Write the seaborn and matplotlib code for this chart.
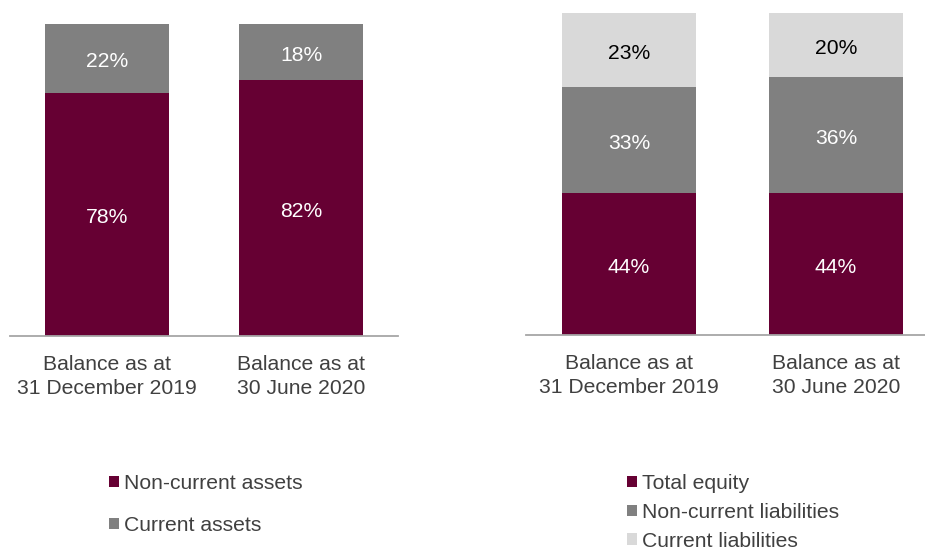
import matplotlib
matplotlib.use("Agg")
import matplotlib.pyplot as plt
from matplotlib.patches import Patch
import numpy as np
import seaborn as sns

# Balance-sheet structure, in percent of the total
periods = ["Balance as at\n31 December 2019", "Balance as at\n30 June 2020"]

asset_labels = ["Non-current assets", "Current assets"]
non_current_assets = [78, 82]
current_assets = [22, 18]

liability_labels = ["Total equity", "Non-current liabilities", "Current liabilities"]
total_equity = [44, 44]
non_current_liabilities = [33, 36]
current_liabilities = [23, 20]

MAROON = "#660033"
GREY = "#808080"
LIGHT = "#D9D9D9"
TEXT = "#404040"
AXIS = "#A6A6A6"
FS = 15.2

sns.set_theme(style="white")
plt.rcParams["font.family"] = ["Liberation Sans", "DejaVu Sans"]

W, H = 925, 549
fig = plt.figure(figsize=(W / 100, H / 100), dpi=100)


def px_axes(left, top, right, bottom):
    return fig.add_axes([left / W, 1 - bottom / H, (right - left) / W, (bottom - top) / H])


def stacked(ax, segments, colors, text_colors, width):
    tops = np.cumsum(np.array(segments, dtype=float), axis=0)
    # draw the tallest cumulative bar first, then cover it with the lower ones
    for top, color in reversed(list(zip(tops, colors))):
        sns.barplot(x=periods, y=top, color=color, width=width, saturation=1,
                    linewidth=0, ax=ax)
    for seg, top, tc in zip(segments, tops, text_colors):
        for i, v in enumerate(seg):
            ax.annotate(f"{v}%", xy=(i, top[i] - v / 2), xytext=(0, -2.5),
                        textcoords="offset points", ha="center", va="center",
                        color=tc, fontsize=FS)
    ax.set_ylim(0, 100)
    ax.set_xlim(-0.5, 1.5)
    ax.set_yticks([])
    ax.set_xlabel("")
    ax.set_ylabel("")
    sns.despine(ax=ax, left=True)
    ax.spines["bottom"].set_color(AXIS)
    ax.spines["bottom"].set_linewidth(1.3)
    ax.tick_params(axis="x", length=0, pad=13.5, labelsize=FS, labelcolor=TEXT)
    for lab in ax.get_xticklabels():
        lab.set_linespacing(1.32)


ax1 = px_axes(10, 24, 398, 336)
stacked(ax1, [non_current_assets, current_assets], [MAROON, GREY],
        ["white", "white"], 0.644)

ax2 = px_axes(525.5, 13, 939.5, 335)
stacked(ax2, [total_equity, non_current_liabilities, current_liabilities],
        [MAROON, GREY, LIGHT], ["white", "white", "black"], 0.647)


def legend(labels, colors, x, y, spacing):
    handles = [Patch(facecolor=c, edgecolor="none", label=l) for l, c in zip(labels, colors)]
    fig.legend(handles=handles, loc="upper left", bbox_to_anchor=(x / W, 1 - y / H),
               frameon=False, fontsize=FS, handlelength=0.48, handleheight=0.48,
               handletextpad=0.25, labelspacing=spacing, borderpad=0,
               borderaxespad=0, labelcolor=TEXT)


legend(asset_labels, [MAROON, GREY], 109, 474, 1.09)
legend(liability_labels, [MAROON, GREY, LIGHT], 627, 474, 0.47)

fig.savefig("out.png", dpi=100)
